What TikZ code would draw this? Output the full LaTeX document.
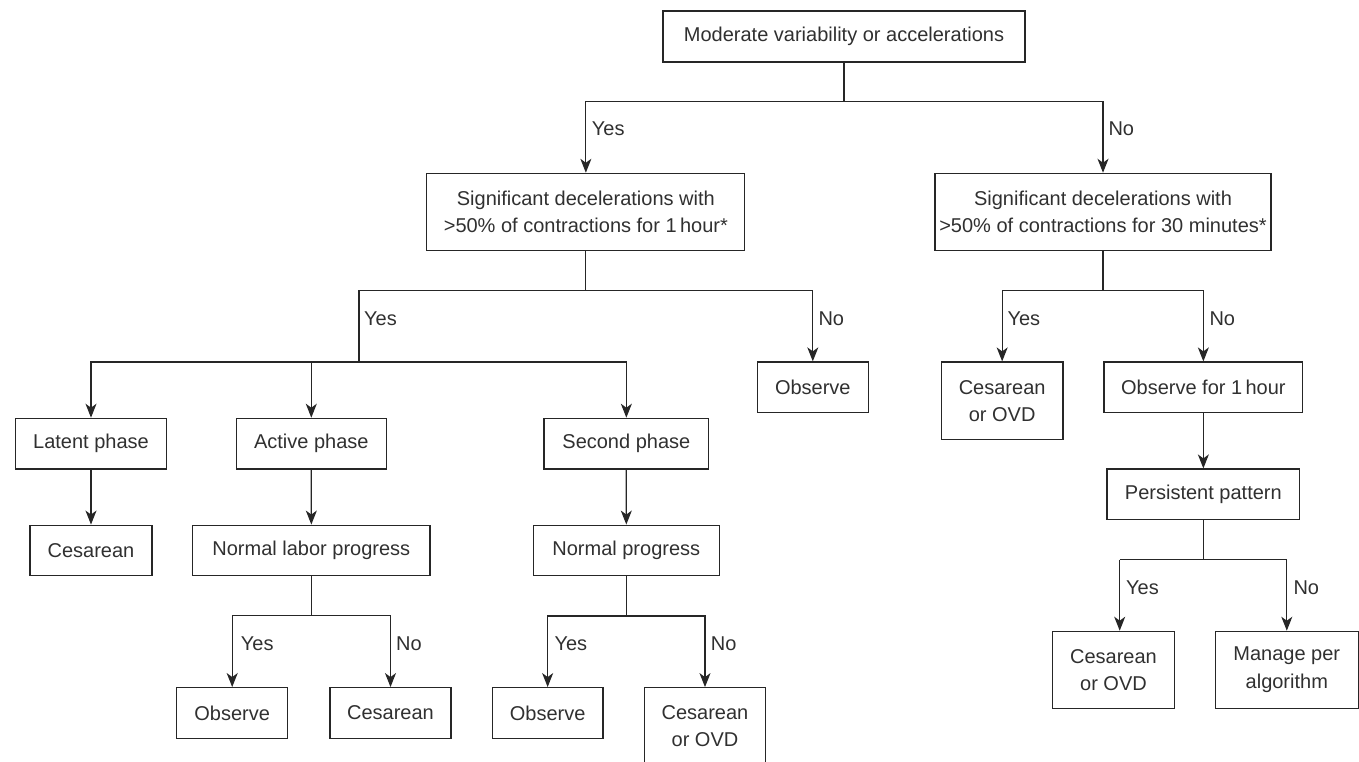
\documentclass[tikz,border=0pt]{standalone}
\usepackage{fontspec}
\setmainfont{Liberation Sans}
\usetikzlibrary{arrows.meta}
\definecolor{ink}{HTML}{262626}
\definecolor{txt}{HTML}{303030}
\begin{document}
\begin{tikzpicture}[x=1pt,y=-1pt,
  box/.style={draw=ink, line width=1.2pt, text=txt, inner sep=0pt, align=center,
    font=\fontsize{20}{27.3}\selectfont},
  one/.style={box, minimum height=50.7pt},
  two/.style={box, minimum height=77pt},
  lbl/.style={anchor=west, inner sep=0pt, text=txt, font=\fontsize{20}{24}\selectfont},
  link/.style={draw=ink, line width=1.2pt},
  arr/.style={link, -{Stealth[length=14pt,width=11pt,inset=4pt]}}]
\useasboundingbox (0,0) rectangle (1359,761);

% decision and outcome boxes
\node[one, minimum width=362pt, minimum height=51pt] (root) at (844,36.5) {Moderate variability or accelerations};
\node[two, minimum width=318pt] (sigA) at (585.85,211.85) {Significant decelerations with\\>50\% of contractions for 1\,hour*};
\node[two, minimum width=336pt] (sigB) at (1103,211.85) {Significant decelerations with\\>50\% of contractions for 30 minutes*};

\node[one, minimum width=111pt] (obs1) at (812.8,387.3) {Observe};
\node[one, minimum width=150.6pt] (latent) at (91,443.65) {Latent phase};
\node[one, minimum width=150pt] (active) at (311.3,443.65) {Active phase};
\node[one, minimum width=164.7pt] (second) at (626.35,443.65) {Second phase};

\node[one, minimum width=122pt] (ces1) at (91,550.5) {Cesarean};
\node[one, minimum width=237.3pt] (nlp) at (311.35,550.5) {Normal labor progress};
\node[one, minimum width=186pt] (np) at (626.3,550.5) {Normal progress};

\node[one, minimum width=111pt] (obs2) at (232.2,713) {Observe};
\node[one, minimum width=121pt] (ces2) at (390.5,713) {Cesarean};
\node[one, minimum width=110.7pt] (obs3) at (547.65,713) {Observe};
\node[two, minimum width=121.4pt] (ovd1) at (705,726.2) {Cesarean\\or OVD};

\node[two, minimum width=121.7pt, minimum height=77.7pt] (ovd2) at (1002.15,400.85) {Cesarean\\or OVD};
\node[one, minimum width=198.7pt] (obs4) at (1203.35,387.35) {Observe for 1\,hour};
\node[one, minimum width=192.7pt] (persist) at (1203.35,494.35) {Persistent pattern};
\node[two, minimum width=121.6pt] (ovd3) at (1113.5,669.8) {Cesarean\\or OVD};
\node[two, minimum width=143pt] (manage) at (1286.8,669.8) {Manage per\\algorithm};

% branch points
\coordinate (j0) at (844,101.7);
\coordinate (j1) at (585.85,290.7);
\coordinate (j1y) at (359,290.7);
\coordinate (j2) at (359,362);
\coordinate (j3) at (311.35,615.7);
\coordinate (j4) at (626.3,616);
\coordinate (j5) at (1103,290.7);
\coordinate (j6) at (1203.35,559.7);
\coordinate (j6y) at (1119.7,559.7);

% connectors
\draw[link] (root) -- (j0);
\draw[arr] (j0) -| (sigA.north);
\draw[arr] (j0) -| (sigB.north);

\draw[link] (sigA) -- (j1);
\draw[link] (j1) -- (j1y) -- (j2);
\draw[arr] (j1) -| (obs1.north);
\draw[arr] (j2) -| (latent.north);
\draw[arr] (j2) -| (active.north);
\draw[arr] (j2) -| (second.north);

\draw[arr] (latent) -- (ces1);
\draw[arr] (active) -- (nlp);
\draw[arr] (second) -- (np);

\draw[link] (nlp) -- (j3);
\draw[arr] (j3) -| (obs2.north);
\draw[arr] (j3) -| (ces2.north);

\draw[link] (np) -- (j4);
\draw[arr] (j4) -| (obs3.north);
\draw[arr] (j4) -| (ovd1.north);

\draw[link] (sigB) -- (j5);
\draw[arr] (j5) -| (ovd2.north);
\draw[arr] (j5) -| (obs4.north);
\draw[arr] (obs4) -- (persist);

\draw[link] (persist) -- (j6);
\draw[link] (j6) -- (j6y);
\draw[arr] (j6y) -- (j6y |- ovd3.north);
\draw[arr] (j6) -| (manage.north);

% branch labels
\node[lbl] (l1) at (591.7,129) {Yes};
\node[lbl] (l2) at (1108.3,129) {No};
\node[lbl] (l3) at (364,319) {Yes};
\node[lbl] (l4) at (818.3,319) {No};
\node[lbl] (l5) at (1007.3,318.3) {Yes};
\node[lbl] (l6) at (1209.3,318.3) {No};
\node[lbl] (l7) at (240.7,643.3) {Yes};
\node[lbl] (l8) at (396,643.3) {No};
\node[lbl] (l9) at (554.3,643.3) {Yes};
\node[lbl] (l10) at (710.7,643.3) {No};
\node[lbl] (l11) at (1126,587.3) {Yes};
\node[lbl] (l12) at (1293.3,587.3) {No};
\end{tikzpicture}
\end{document}
